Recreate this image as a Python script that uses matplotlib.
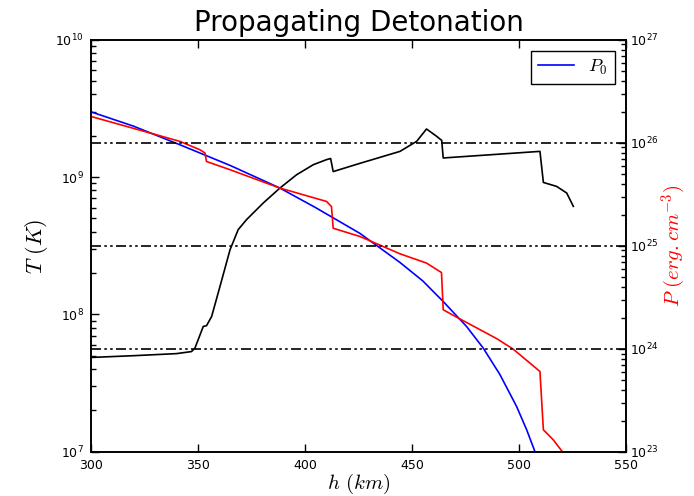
import numpy as np
import matplotlib
matplotlib.use("Agg")
import matplotlib.pyplot as plt
from matplotlib.ticker import LogLocator

plt.rcParams['mathtext.fontset'] = 'cm'
plt.rcParams['axes.linewidth'] = 1.2
plt.rcParams['xtick.direction'] = 'in'
plt.rcParams['ytick.direction'] = 'in'

# temperature profile (left axis)
h_T = [300, 320, 340, 347, 348.6, 352.5, 354.0, 356.4, 360.3, 365.0, 368.8, 372.7,
       380.5, 388.3, 396.1, 403.9, 410.1, 412.0, 413.2, 425.7, 444.4, 452.2, 456.8,
       461.5, 463.9, 464.6, 509.8, 511.4, 517.6, 522.3, 525.4]
logT = [7.687, 7.70, 7.715, 7.73, 7.755, 7.913, 7.918, 7.985, 8.204, 8.471, 8.617, 8.69,
        8.811, 8.92, 9.017, 9.09, 9.127, 9.135, 9.04, 9.10, 9.187, 9.26, 9.35,
        9.297, 9.267, 9.139, 9.187, 8.961, 8.932, 8.884, 8.787]

# pressure profile (right axis)
h_P = [300, 341.6, 350.9, 353.3, 354.0, 365.0, 388.3, 410.1, 412.4, 413.2, 425.7,
       444.4, 456.8, 463.8, 464.6, 470.8, 489.5, 497.3, 509.8, 511.4, 516.0, 520.7]
logP = [26.255, 26.013, 25.932, 25.90, 25.818, 25.738, 25.56, 25.43, 25.38, 25.17, 25.09,
        24.922, 24.832, 24.74, 24.379, 24.308, 24.10, 23.997, 23.78, 23.214, 23.117, 22.99]

# initial pressure P0 (right axis)
h_P0 = [300, 320, 341.6, 365, 388.3, 405, 425.7, 444.4, 455, 464.6, 475.5, 483.3,
        491.1, 498.9, 503.6, 507.5]
logP0 = [26.30, 26.16, 25.98, 25.78, 25.56, 25.37, 25.12, 24.838, 24.66, 24.459,
         24.217, 24.007, 23.75, 23.44, 23.214, 23.0]

ref_lines = [1e24, 1e25, 1e26]

fig = plt.figure(figsize=(6.94, 4.96), facecolor='white')
ax1 = fig.add_axes([0.131, 0.089, 0.771, 0.831])
ax1.semilogy(h_T, 10**np.array(logT), color='k', lw=1.2)
ax1.set_xlim(300, 550)
ax1.set_ylim(1e7, 1e10)
ax1.set_xticks([300, 350, 400, 450, 500, 550])
ax1.set_xlabel(r'$h\ (km)$', fontsize=15, labelpad=0)
ax1.set_ylabel(r'$T\ (K)$', fontsize=16)
ax1.set_title('Propagating Detonation', fontsize=20)

ax2 = ax1.twinx()
ax2.semilogy(h_P0, 10**np.array(logP0), color='b', lw=1.2, label=r'$P_0$')
ax2.semilogy(h_P, 10**np.array(logP), color='r', lw=1.2)
for v in ref_lines:
    ax2.axhline(v, color='k', lw=1.2, dashes=(6, 2, 1.5, 2, 1.5, 2))
ax2.set_xlim(300, 550)
ax2.set_ylim(1e23, 1e27)
ax2.set_ylabel(r'$P\ (erg{.}cm^{-3})$', fontsize=15, color='r', labelpad=1)
ax2.legend(loc='upper right', fontsize=13, fancybox=False, framealpha=1,
           edgecolor='k', borderaxespad=0.6)

for ax in (ax1, ax2):
    ax.yaxis.set_minor_locator(LogLocator(base=10, subs=np.arange(2, 10), numticks=20))
    ax.tick_params(labelsize=9, direction='in', color='k', pad=5)
    ax.tick_params(which='major', length=6, width=1)
    ax.tick_params(which='minor', length=3.5, width=1)
ax1.tick_params(axis='x', top=True, bottom=True)
ax1.tick_params(axis='y', which='both', left=True, right=False)
ax2.tick_params(axis='y', which='both', left=False, right=True, pad=3)

fig.savefig('out.png', dpi=100, facecolor='white')
